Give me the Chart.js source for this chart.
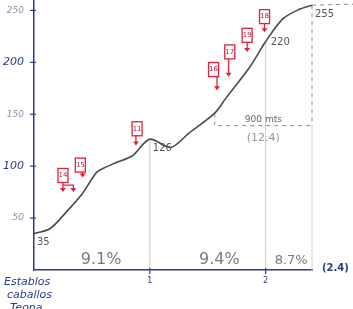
<!DOCTYPE html>
<html>
<head>
<meta charset="utf-8">
<script src="https://cdn.jsdelivr.net/npm/chart.js@4.4.1/dist/chart.umd.min.js"></script>
<style>
  html, body { margin: 0; padding: 0; background: #fff; }
  #wrap { width: 353px; height: 309px; position: relative; }
</style>
</head>
<body>
<div id="wrap"><canvas id="profile"></canvas></div>
<script>
// profile data (km, metres)
const distances = [0, 0.14, 0.28, 0.42, 0.54, 0.6, 0.7, 0.85, 1.0, 1.18, 1.34, 1.56, 1.66, 1.86, 2.0, 2.15, 2.29, 2.4];
const elevations = [35, 40, 56, 74, 94, 98, 103, 110, 126, 118, 132, 151, 166, 195, 220, 242, 251, 255];

const yTicks = [50, 100, 150, 200, 250];
const xTicks = [1, 2];

// spot heights shown on the curve
const spotX = [0, 1, 2, 2.4];
const spotLabels = ['35', '126', '220', '255'];

// grade per section
const gradeLabels = ['9.1%', '9.4%', '8.7%'];
const gradeX = [0.58, 1.6, 2.22];

// numbered red markers: box centre and arrow tip(s)
const markerLabels = ['14', '15', '11', '16', '17', '19', '18'];
const markerBoxX = [0.25, 0.40, 0.89, 1.55, 1.69, 1.84, 1.99];
const markerBoxY = [91, 101, 136, 193, 210, 226, 244];
const markerTipX = [[0.25, 0.34], [0.42], [0.88], [1.58], [1.68], [1.84], [1.99]];
const markerTipY = [75, 89, 120, 173, 186, 210, 229];

const navy = '#2b3a8c';
const pencil = '#7a7a7a';

const extras = {
  id: 'extras',
  beforeDatasetsDraw(chart) {
    const { ctx, scales: { x, y } } = chart;
    ctx.save();
    // vertical guides at km 1 and 2
    ctx.strokeStyle = '#c9c9c9';
    ctx.lineWidth = 1;
    [[1, 126], [2, 220]].forEach(([k, h]) => {
      ctx.beginPath();
      ctx.moveTo(x.getPixelForValue(k), y.getPixelForValue(h));
      ctx.lineTo(x.getPixelForValue(k), y.getPixelForValue(0));
      ctx.stroke();
    });
    // end line, dashed in upper part
    ctx.strokeStyle = '#d2d2d2';
    ctx.beginPath();
    ctx.moveTo(x.getPixelForValue(2.4), y.getPixelForValue(139));
    ctx.lineTo(x.getPixelForValue(2.4), y.getPixelForValue(0));
    ctx.stroke();
    ctx.strokeStyle = '#8a8a8a';
    ctx.setLineDash([4, 4]);
    ctx.beginPath();
    ctx.moveTo(x.getPixelForValue(2.4), y.getPixelForValue(255));
    ctx.lineTo(x.getPixelForValue(2.4), y.getPixelForValue(139));
    ctx.stroke();
    // 900 mts measure
    ctx.beginPath();
    ctx.moveTo(x.getPixelForValue(1.56), y.getPixelForValue(151));
    ctx.lineTo(x.getPixelForValue(1.56), y.getPixelForValue(139));
    ctx.lineTo(x.getPixelForValue(2.4), y.getPixelForValue(139));
    ctx.stroke();
    // top dashed continuation
    ctx.beginPath();
    ctx.moveTo(x.getPixelForValue(2.4), y.getPixelForValue(255));
    ctx.lineTo(chart.width, y.getPixelForValue(256));
    ctx.stroke();
    ctx.restore();
  },
  afterDraw(chart) {
    const { ctx, scales: { x, y } } = chart;
    ctx.save();
    // y ticks + labels
    ctx.strokeStyle = navy;
    ctx.lineWidth = 1.2;
    ctx.textAlign = 'right';
    ctx.textBaseline = 'middle';
    yTicks.forEach(v => {
      const py = y.getPixelForValue(v);
      ctx.beginPath();
      ctx.moveTo(x.left - 4, py);
      ctx.lineTo(x.left + 2, py);
      ctx.stroke();
      const strong = v === 100 || v === 200;
      ctx.fillStyle = strong ? navy : '#8a8fa8';
      ctx.font = (strong ? 'italic 11px' : 'italic 9px') + ' "DejaVu Sans"';
      ctx.fillText(String(v), x.left - 10, py);
    });
    // x ticks + labels
    ctx.textAlign = 'center';
    ctx.textBaseline = 'top';
    ctx.fillStyle = navy;
    ctx.font = '8px "DejaVu Sans"';
    xTicks.forEach(v => {
      const px = x.getPixelForValue(v);
      ctx.beginPath();
      ctx.moveTo(px, y.bottom - 2);
      ctx.lineTo(px, y.bottom + 4);
      ctx.stroke();
      ctx.fillText(String(v), px, y.bottom + 7);
    });
    ctx.font = 'bold 10px "DejaVu Sans"';
    ctx.textAlign = 'left';
    ctx.textBaseline = 'middle';
    ctx.fillText('(2.4)', x.right + 10, y.bottom - 2);
    ctx.font = 'italic 11px "DejaVu Sans"';
    ['Establos', 'caballos', 'Teona'].forEach((t, i) => {
      ctx.fillText(t, 4 + i * 3, y.bottom + 12 + i * 13);
    });

    // spot heights
    ctx.fillStyle = '#555';
    ctx.font = '10px "DejaVu Sans"';
    spotX.forEach((k, i) => {
      const px = x.getPixelForValue(k);
      const py = y.getPixelForValue(elevations[distances.indexOf(k)]);
      if (k === 2) {
        ctx.textBaseline = 'middle';
        ctx.fillText(spotLabels[i], px + 5, py + 1);
      } else {
        ctx.textBaseline = 'top';
        ctx.fillText(spotLabels[i], px + 3, py + 4);
      }
    });

    // grades
    ctx.fillStyle = pencil;
    ctx.textAlign = 'center';
    ctx.textBaseline = 'alphabetic';
    gradeLabels.forEach((g, i) => {
      ctx.font = (i === 2 ? '13px' : '16px') + ' "DejaVu Sans"';
      ctx.fillText(g, x.getPixelForValue(gradeX[i]), y.getPixelForValue(6));
    });

    // 900 mts / (12.4)
    ctx.fillStyle = '#666';
    ctx.font = '9px "DejaVu Sans"';
    ctx.fillText('900 mts', x.getPixelForValue(1.98), y.getPixelForValue(143));
    ctx.fillStyle = '#999';
    ctx.font = '11px "DejaVu Sans"';
    ctx.fillText('(12.4)', x.getPixelForValue(1.98), y.getPixelForValue(124));

    // red markers
    ctx.strokeStyle = '#e0203c';
    ctx.fillStyle = '#e0203c';
    ctx.lineWidth = 1.3;
    markerLabels.forEach((lbl, i) => {
      const bx = x.getPixelForValue(markerBoxX[i]);
      const by = y.getPixelForValue(markerBoxY[i]);
      const ty = y.getPixelForValue(markerTipY[i]);
      ctx.strokeRect(bx - 5, by - 7, 10, 14);
      ctx.font = '7px "DejaVu Sans"';
      ctx.textAlign = 'center';
      ctx.textBaseline = 'middle';
      ctx.fillStyle = '#b0203a';
      ctx.fillText(lbl, bx, by);
      ctx.fillStyle = '#e0203c';
      const tips = markerTipX[i].map(t => x.getPixelForValue(t));
      const sx = tips[0];
      ctx.beginPath();
      ctx.moveTo(sx, by + 7);
      ctx.lineTo(sx, ty - 3);
      if (tips.length > 1) {
        ctx.moveTo(sx, ty - 7);
        ctx.lineTo(tips[1], ty - 7);
        ctx.lineTo(tips[1], ty - 3);
      }
      ctx.stroke();
      tips.forEach(tx => {
        ctx.beginPath();
        ctx.moveTo(tx - 3, ty - 4);
        ctx.lineTo(tx + 3, ty - 4);
        ctx.lineTo(tx, ty);
        ctx.closePath();
        ctx.fill();
      });
    });
    ctx.restore();
  }
};

const points = distances.map((d, i) => ({ x: d, y: elevations[i] }));

new Chart(document.getElementById('profile'), {
  type: 'line',
  data: {
    datasets: [{
      data: points,
      borderColor: '#4a4a4a',
      borderWidth: 1.6,
      pointRadius: 0,
      tension: 0.3,
      fill: false
    }]
  },
  options: {
    responsive: true,
    maintainAspectRatio: false,
    animation: false,
    layout: { padding: { left: 34, right: 41, top: 0, bottom: 39 } },
    plugins: { legend: { display: false }, tooltip: { enabled: false } },
    scales: {
      x: {
        type: 'linear', min: 0, max: 2.4,
        ticks: { display: false },
        grid: { display: false },
        border: { color: navy, width: 1.5 },
        afterFit(scale) { scale.height = 0; }
      },
      y: {
        min: 0, max: 260,
        ticks: { display: false },
        grid: { display: false },
        border: { color: navy, width: 1.5 },
        afterFit(scale) { scale.width = 0; }
      }
    }
  },
  plugins: [extras]
});
</script>
</body>
</html>
